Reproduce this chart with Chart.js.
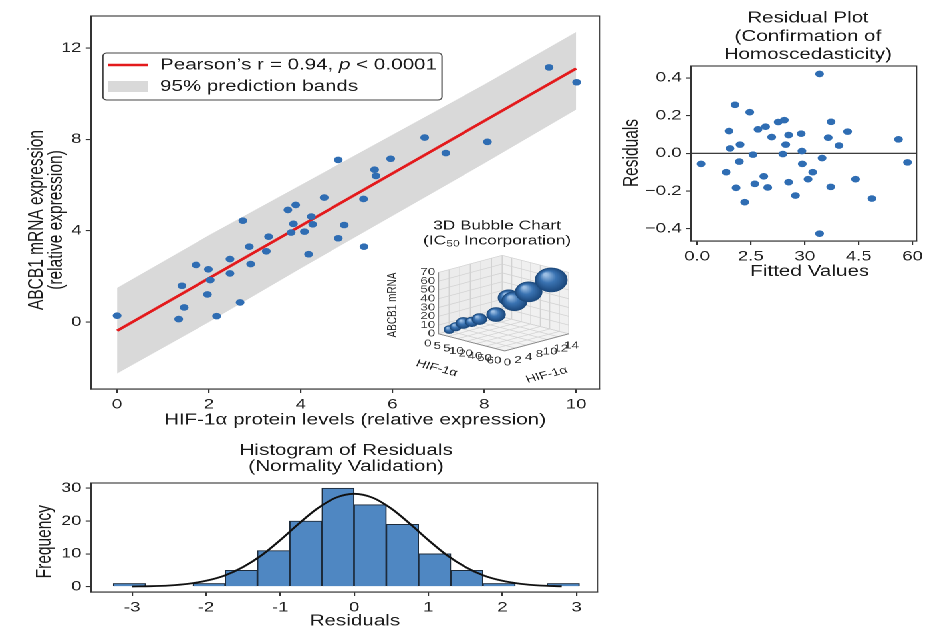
<!DOCTYPE html>
<html>
<head>
<meta charset="utf-8">
<script src="https://cdn.jsdelivr.net/npm/chart.js@4.4.1/dist/chart.umd.min.js"></script>
<style>
  html, body { margin: 0; padding: 0; background: #fff; overflow: hidden; }
  #page { position: absolute; left: 0; top: 0; width: 697px; height: 628px; transform: scaleX(1.33); transform-origin: 0 0; }
  canvas { position: absolute; }
</style>
</head>
<body>
<div id="page">
  <canvas id="main" width="460" height="440" style="left:0;top:0"></canvas>
  <canvas id="inset" width="170" height="172" style="left:285px;top:212px"></canvas>
  <canvas id="resid" width="237" height="290" style="left:460px;top:0"></canvas>
  <canvas id="hist" width="460" height="198" style="left:0;top:430px"></canvas>
</div>
<script>
// --- main scatter: HIF-1a protein vs ABCB1 mRNA ---
const hifLevels = [0, 1.34, 1.46, 1.41, 1.72, 1.99, 2.03, 1.97, 2.17, 2.46, 2.46, 2.68, 2.74, 2.88, 2.91, 3.25, 3.30, 3.72, 3.89, 3.79,
  3.84, 4.08, 4.23, 4.26, 4.17, 4.51, 4.82, 4.82, 4.95, 5.37, 5.38, 5.61, 5.64, 5.96, 6.70, 7.16, 8.07, 9.41, 10.01];
const abcb1Levels = [0.28, 0.13, 0.64, 1.59, 2.50, 2.31, 1.84, 1.21, 0.26, 2.76, 2.13, 0.86, 4.44, 3.30, 2.54, 3.10, 3.74, 4.91, 5.13, 3.92,
  4.30, 3.96, 4.62, 4.28, 2.97, 5.45, 7.10, 3.67, 4.25, 5.39, 3.30, 6.67, 6.40, 7.15, 8.08, 7.40, 7.89, 11.15, 10.50];
const fitX = [0, 10];
const fitY = [-0.38, 11.1];
const bandX = [0, 2, 4, 6, 8, 10];
const bandUpper = [1.5, 3.8, 6.0, 8.2, 10.4, 12.7];
const bandLower = [-2.25, 0.0, 2.35, 4.65, 6.95, 9.3];
const mainXTicks = [0, 2, 4, 6, 8, 10];
const mainYTicks = [0, 4, 8, 12];

// --- inset 3D bubbles ---
const bubbleHifA = [1.16, 1.85, 2.67, 3.59, 4.42, 6.2, 7.57, 8.18, 9.71, 12.1];   // right floor axis (0-14)
const bubbleHifB = [5.0, 7.9, 11.5, 15.4, 18.9, 26.6, 32.4, 35.0, 41.6, 52.0];    // left floor axis (0-60)
const bubbleAbcb1 = [4.9, 8.1, 12.4, 13.6, 16.8, 22.0, 41.1, 37.2, 47.9, 61.5];
const bubbleIc50 = [4.0, 4.3, 5.5, 4.8, 5.5, 7.0, 8.0, 9.5, 10.0, 12.0];
const insetZTicks = [0, 10, 20, 30, 40, 50, 60, 70];
const insetBLabels = ['0', '5', '5', '10', '20', '40', '50', '60'];
const insetALabels = ['0', '2', '4', '8', '10', '12', '14'];

// --- residual plot ---
const fittedValues = [0.11, 0.81, 0.89, 0.92, 1.06, 1.09, 1.18, 1.20, 1.33, 1.47, 1.56, 1.61, 1.70, 1.86, 1.91, 1.97, 2.08, 2.26, 2.43, 2.39, 2.47,
  2.55, 2.55, 2.74, 2.90, 2.92, 2.93, 3.09, 3.22, 3.41, 3.41, 3.48, 3.65, 3.73, 3.72, 3.95, 4.19, 4.41, 4.87, 5.61, 5.86];
const residualValues = [-0.056, -0.10, 0.118, 0.026, 0.257, -0.183, -0.044, 0.046, -0.259, 0.218, -0.007, -0.162, 0.127, -0.122, 0.141, -0.181, 0.086, 0.166, 0.176, -0.004, 0.046,
  0.097, -0.153, -0.224, 0.104, 0.012, -0.056, -0.137, -0.10, 0.421, -0.426, -0.025, 0.083, 0.167, -0.178, 0.041, 0.115, -0.137, -0.240, 0.074, -0.048];
const residXTicks = [0, 1.5, 3, 4.5, 6];
const residXTickLabels = ['0.0', '2.5', '30', '4.5', '60'];
const residYTicks = [-0.4, -0.2, 0, 0.2, 0.4];
const residYTickLabels = ['\u22120.4', '\u22120.2', '0.0', '0.2', '0.4'];

// --- histogram of residuals ---
const binCenters = [-3.035, -1.96, -1.525, -1.09, -0.655, -0.22, 0.215, 0.65, 1.085, 1.52, 1.955, 2.82];
const binCounts = [1, 1, 5, 11, 20, 30, 25, 19, 10, 5, 1, 1];
const curveX = [-3.0, -2.75, -2.5, -2.25, -2.0, -1.75, -1.5, -1.25, -1.0, -0.75, -0.5, -0.25, 0, 0.25, 0.5, 0.75, 1.0, 1.25, 1.5, 1.75, 2.0, 2.25, 2.5, 2.8];
const curveY = [0.06, 0.15, 0.37, 0.85, 1.8, 3.4, 6.0, 9.6, 14.2, 19.2, 23.8, 27.1, 28.3, 27.1, 23.8, 19.2, 14.2, 9.6, 6.0, 3.4, 1.8, 0.85, 0.37, 0.12];
const histXTicks = [-3, -2, -1, 0, 1, 2, 3];
const histYTicks = [0, 10, 20, 30];

const FONT = "'Liberation Sans', Arial, Helvetica, sans-serif";
Chart.defaults.font.family = FONT;
Chart.defaults.color = '#222';

function axis(min, max, ticks, labels, size, horizontal) {
    return {
        type: 'linear', min: min, max: max, offset: false,
        afterBuildTicks: s => { s.ticks = ticks.map(v => ({ value: v })); },
        afterFit: s => { if (horizontal) s.height = size; else s.width = size; },
        grid: { drawOnChartArea: false, offset: false, tickLength: 4, color: '#333', lineWidth: 1.1 },
        border: { color: '#333', width: 1.1 },
        ticks: { font: { size: 14 }, padding: 3, color: '#222', maxRotation: 0, autoSkip: false,
            callback: (v, i) => labels[i] }
    };
}

function drawText(ctx, t) {
    ctx.save();
    ctx.translate(t.x, t.y);
    if (t.rot) ctx.rotate(t.rot * Math.PI / 180);
    ctx.font = (t.italic ? 'italic ' : '') + (t.size || 15.5) + 'px ' + FONT;
    ctx.fillStyle = t.color || '#1a1a1a';
    ctx.textAlign = t.align || 'center';
    ctx.textBaseline = 'middle';
    ctx.fillText(t.s, 0, 0);
    ctx.restore();
}

function drawFrame(chart) {
    const { ctx, chartArea: a } = chart;
    ctx.save();
    ctx.strokeStyle = '#333';
    ctx.lineWidth = 1.1;
    ctx.strokeRect(a.left, a.top, a.right - a.left, a.bottom - a.top);
    ctx.restore();
}

const baseOptions = {
    responsive: false,
    devicePixelRatio: 2,
    animation: false,
    events: [],
    plugins: { legend: { display: false }, tooltip: { enabled: false } }
};

// Main scatter with fit and prediction band
const mainTexts = [
    { s: 'ABCB1 mRNA expression', x: 27.8, y: 220, rot: -90 },
    { s: '(relative expression)', x: 42.1, y: 220, rot: -90 },
    { s: 'HIF-1\u03b1 protein levels (relative expression)', x: 266.9, y: 420 }
];

function drawLegend(ctx) {
    ctx.save();
    ctx.beginPath();
    ctx.roundRect(77.4, 53, 254.9, 47, 3);
    ctx.fillStyle = 'rgba(255,255,255,0.9)';
    ctx.fill();
    ctx.strokeStyle = '#444';
    ctx.lineWidth = 1;
    ctx.stroke();
    ctx.strokeStyle = '#e31a1c';
    ctx.lineWidth = 2.5;
    ctx.beginPath();
    ctx.moveTo(81.5, 65);
    ctx.lineTo(111, 65);
    ctx.stroke();
    ctx.fillStyle = '#d9d9d9';
    ctx.fillRect(81.5, 81, 29.5, 11);
    ctx.fillStyle = '#1a1a1a';
    ctx.textBaseline = 'middle';
    ctx.textAlign = 'left';
    let x = 120.3;
    const parts = [['Pearson\u2019s r = 0.94, ', false], ['p', true], [' < 0.0001', false]];
    parts.forEach(([s, it]) => {
        ctx.font = (it ? 'italic ' : '') + '15.5px ' + FONT;
        ctx.fillText(s, x, 65);
        x += ctx.measureText(s).width;
    });
    ctx.font = '15.5px ' + FONT;
    ctx.fillText('95% prediction bands', 120.3, 86.7);
    ctx.restore();
}

new Chart(document.getElementById('main'), {
    type: 'scatter',
    data: {
        datasets: [
            {
                type: 'line', data: bandX.map((x, i) => ({ x: x, y: bandUpper[i] })),
                fill: '+1', backgroundColor: '#d9d9d9', borderWidth: 0, pointRadius: 0, showLine: true, order: 3
            },
            {
                type: 'line', data: bandX.map((x, i) => ({ x: x, y: bandLower[i] })),
                fill: false, borderWidth: 0, pointRadius: 0, showLine: true, order: 3
            },
            {
                type: 'line', data: fitX.map((x, i) => ({ x: x, y: fitY[i] })),
                borderColor: '#e31a1c', borderWidth: 2.5, pointRadius: 0, fill: false, showLine: true, order: 2
            },
            {
                data: hifLevels.map((x, i) => ({ x: x, y: abcb1Levels[i] })),
                backgroundColor: '#2f6db3', borderWidth: 0, pointRadius: 3.3, order: 1
            }
        ]
    },
    options: Object.assign({}, baseOptions, {
        layout: { padding: { top: 16, right: 8.9, left: 0, bottom: 0 } },
        scales: {
            x: axis(-0.57, 10.52, mainXTicks, mainXTicks.map(String), 51, true),
            y: axis(-2.93, 13.40, mainYTicks, mainYTicks.map(String), 68.4, false)
        }
    }),
    plugins: [{
        id: 'mainDecor',
        afterDraw(chart) {
            drawFrame(chart);
            mainTexts.forEach(t => drawText(chart.ctx, t));
            drawLegend(chart.ctx);
        }
    }]
});

// Inset: pseudo 3D bubble chart, projected onto the inset canvas
function proj(a, b, z) {
    return { x: 37.6 + b / 60 * 58.6 + a / 14 * 56.4, y: 128 + b / 60 * 20 - a / 14 * 20 - z / 70 * 72 };
}

function sphere(c) {
    const chart = c.chart;
    const raw = c.raw;
    if (!raw || !chart.chartArea) return '#2f6aa6';
    const px = chart.scales.x.getPixelForValue(raw.x);
    const py = chart.scales.y.getPixelForValue(raw.y);
    const r = raw.r;
    const g = chart.ctx.createRadialGradient(px - r * 0.35, py - r * 0.45, r * 0.1, px, py, r);
    g.addColorStop(0, '#9dbfe4');
    g.addColorStop(0.45, '#3a73b2');
    g.addColorStop(1, '#1b477b');
    return g;
}

const insetDecor = {
    id: 'insetDecor',
    beforeDatasetsDraw(chart) {
        const ctx = chart.ctx;
        const sx = chart.scales.x, sy = chart.scales.y;
        const pt = (a, b, z) => { const p = proj(a, b, z); return [sx.getPixelForValue(p.x), sy.getPixelForValue(p.y)]; };
        const poly = (pts, fill) => {
            ctx.beginPath();
            pts.forEach((p, i) => i ? ctx.lineTo(p[0], p[1]) : ctx.moveTo(p[0], p[1]));
            ctx.closePath();
            ctx.fillStyle = fill;
            ctx.fill();
        };
        const seg = (p, q) => { ctx.beginPath(); ctx.moveTo(p[0], p[1]); ctx.lineTo(q[0], q[1]); ctx.stroke(); };
        const aPos = insetALabels.map((s, i) => i * 14 / (insetALabels.length - 1));
        const bPos = insetBLabels.map((s, i) => i * 60 / (insetBLabels.length - 1));

        ctx.save();
        poly([pt(0, 0, 0), pt(0, 60, 0), pt(14, 60, 0), pt(14, 0, 0)], '#f3f3f3');
        poly([pt(0, 0, 0), pt(14, 0, 0), pt(14, 0, 70), pt(0, 0, 70)], '#ececec');
        poly([pt(14, 0, 0), pt(14, 60, 0), pt(14, 60, 70), pt(14, 0, 70)], '#f0f0f0');
        ctx.strokeStyle = '#d2d2d2';
        ctx.lineWidth = 0.7;
        aPos.forEach(a => { seg(pt(a, 0, 0), pt(a, 60, 0)); seg(pt(a, 0, 0), pt(a, 0, 70)); });
        bPos.forEach(b => { seg(pt(0, b, 0), pt(14, b, 0)); seg(pt(14, b, 0), pt(14, b, 70)); });
        insetZTicks.forEach(z => { seg(pt(0, 0, z), pt(14, 0, z)); seg(pt(14, 0, z), pt(14, 60, z)); });
        ctx.strokeStyle = '#8a8a8a';
        ctx.lineWidth = 0.9;
        seg(pt(0, 0, 0), pt(0, 0, 70));
        seg(pt(0, 0, 0), pt(0, 60, 0));
        seg(pt(0, 60, 0), pt(14, 60, 0));
        ctx.restore();

        insetZTicks.forEach(z => {
            const p = pt(0, 0, z);
            drawText(ctx, { s: String(z), x: p[0] - 2.5, y: p[1], size: 10, align: 'right', color: '#333' });
        });
        bPos.forEach((b, i) => {
            const p = pt(0, b, 0);
            drawText(ctx, { s: insetBLabels[i], x: p[0] - 8, y: p[1] + 10, size: 10, color: '#333' });
        });
        aPos.forEach((a, i) => {
            const p = pt(a, 60, 0);
            drawText(ctx, { s: insetALabels[i], x: p[0] + 2, y: p[1] + 12, size: 10, color: '#333' });
        });
        drawText(ctx, { s: 'ABCB1 mRNA', x: 10.4, y: 93, size: 10, rot: -90, color: '#222' });
        drawText(ctx, { s: 'HIF-1\u03b1', x: 43.3, y: 156.3, size: 10.5, rot: 19, color: '#222' });
        drawText(ctx, { s: 'HIF-1\u03b1', x: 126.1, y: 163, size: 10.5, rot: -19, color: '#222' });

        // title with IC50 subscript
        drawText(ctx, { s: '3D Bubble Chart', x: 88.7, y: 13.8, size: 13 });
        ctx.save();
        const big = '13px ' + FONT, small = '9px ' + FONT;
        const pieces = [['(IC', big, 0], ['50', small, 3], [' Incorporation)', big, 0]];
        let w = 0;
        pieces.forEach(p => { ctx.font = p[1]; w += ctx.measureText(p[0]).width; });
        let x = 88.7 - w / 2;
        ctx.fillStyle = '#1a1a1a';
        ctx.textBaseline = 'middle';
        ctx.textAlign = 'left';
        pieces.forEach(p => { ctx.font = p[1]; ctx.fillText(p[0], x, 28.8 + p[2]); x += ctx.measureText(p[0]).width; });
        ctx.restore();
    }
};

new Chart(document.getElementById('inset'), {
    type: 'bubble',
    data: {
        datasets: [{
            data: bubbleHifA.map((a, i) => {
                const p = proj(a, bubbleHifB[i], bubbleAbcb1[i]);
                return { x: p.x, y: p.y, r: bubbleIc50[i] };
            }),
            backgroundColor: sphere,
            borderColor: '#1c4a7c',
            borderWidth: 0.6
        }]
    },
    options: Object.assign({}, baseOptions, {
        layout: { padding: 0 },
        scales: {
            x: { type: 'linear', min: 0, max: 170, display: false },
            y: { type: 'linear', min: 0, max: 172, reverse: true, display: false }
        }
    }),
    plugins: [insetDecor]
});

// Residual plot
const residTexts = [
    { s: 'Residual Plot', x: 147.5, y: 18 },
    { s: '(Confirmation of', x: 147.5, y: 36.5 },
    { s: 'Homoscedasticity)', x: 147.5, y: 54.5 },
    { s: 'Residuals', x: 15, y: 153, rot: -90 },
    { s: 'Fitted Values', x: 148.8, y: 271.7 }
];

new Chart(document.getElementById('resid'), {
    type: 'scatter',
    data: {
        datasets: [{
            data: fittedValues.map((x, i) => ({ x: x, y: residualValues[i] })),
            backgroundColor: '#2f6db3', borderWidth: 0, pointRadius: 3.3
        }]
    },
    options: Object.assign({}, baseOptions, {
        layout: { padding: { top: 66, right: 3.8, left: 0, bottom: 0 } },
        scales: {
            x: axis(-0.17, 6.11, residXTicks, residXTickLabels, 49, true),
            y: axis(-0.465, 0.463, residYTicks, residYTickLabels, 59.5, false)
        }
    }),
    plugins: [{
        id: 'residDecor',
        beforeDatasetsDraw(chart) {
            const { ctx, chartArea: a } = chart;
            const y0 = chart.scales.y.getPixelForValue(0);
            ctx.save();
            ctx.strokeStyle = '#222';
            ctx.lineWidth = 1.1;
            ctx.beginPath();
            ctx.moveTo(a.left, y0);
            ctx.lineTo(a.right, y0);
            ctx.stroke();
            ctx.restore();
        },
        afterDraw(chart) {
            drawFrame(chart);
            residTexts.forEach(t => drawText(chart.ctx, t));
        }
    }]
});

// Histogram of residuals with normal curve
const histTexts = [
    { s: 'Histogram of Residuals', x: 260.2, y: 20.7 },
    { s: '(Normality Validation)', x: 260.2, y: 36.7 },
    { s: 'Frequency', x: 33.7, y: 111.7, rot: -90 },
    { s: 'Residuals', x: 266.9, y: 191.2 }
];

new Chart(document.getElementById('hist'), {
    type: 'bar',
    data: {
        datasets: [
            {
                type: 'line', data: curveX.map((x, i) => ({ x: x, y: curveY[i] })),
                borderColor: '#111', borderWidth: 1.8, pointRadius: 0, fill: false, tension: 0.4,
                cubicInterpolationMode: 'monotone', order: 1
            },
            {
                type: 'bar', data: binCenters.map((x, i) => ({ x: x, y: binCounts[i] })),
                backgroundColor: '#4f87c2', borderColor: '#1d2b3b', borderWidth: 1,
                barPercentage: 1, categoryPercentage: 1, order: 2
            }
        ]
    },
    options: Object.assign({}, baseOptions, {
        layout: { padding: { top: 53, right: 10.4, left: 0, bottom: 0 } },
        scales: {
            x: axis(-3.555, 3.29, histXTicks, histXTicks.map(String), 36, true),
            y: axis(-1.62, 31.6, histYTicks, histYTicks.map(String), 68.4, false)
        }
    }),
    plugins: [{
        id: 'histDecor',
        afterDraw(chart) {
            drawFrame(chart);
            histTexts.forEach(t => drawText(chart.ctx, t));
        }
    }]
});
</script>
</body>
</html>
